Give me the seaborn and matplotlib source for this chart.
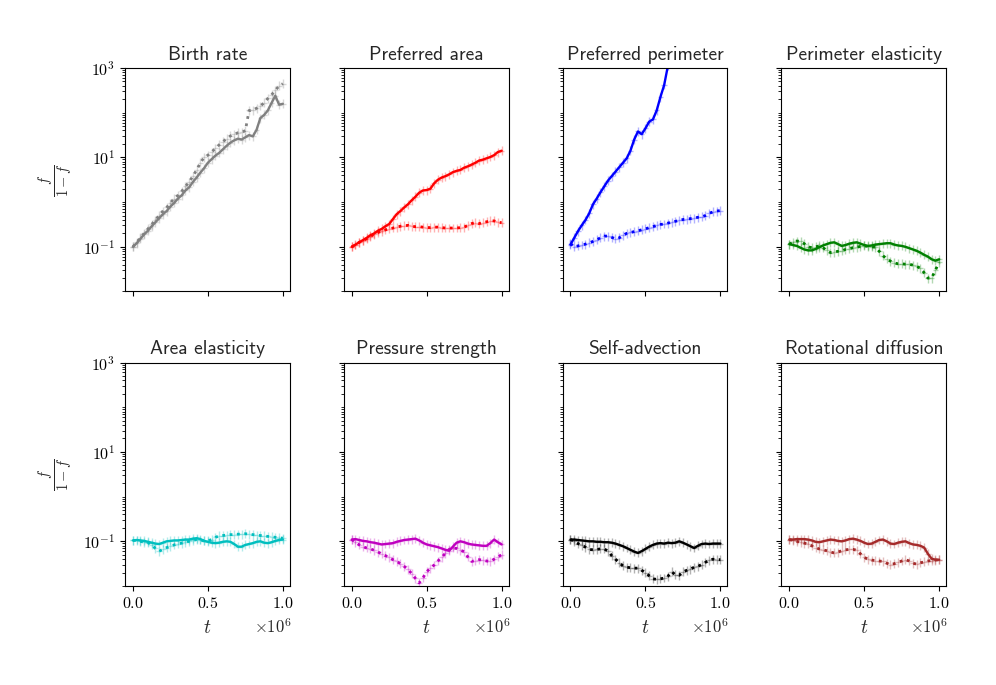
import numpy as np
import matplotlib
matplotlib.use("Agg")
import matplotlib.pyplot as plt
import matplotlib.ticker as mticker
import seaborn as sns

# sample times in units of 1e6
t_sample = [0.0, 0.025, 0.05, 0.075, 0.1, 0.125, 0.15, 0.175, 0.2, 0.225,
            0.25, 0.275, 0.3, 0.325, 0.35, 0.375, 0.4, 0.425, 0.45, 0.475,
            0.5, 0.525, 0.55, 0.575, 0.6, 0.625, 0.65, 0.675, 0.7, 0.725,
            0.75, 0.775, 0.8, 0.825, 0.85, 0.875, 0.9, 0.925, 0.95, 0.975, 1.0]

titles = ["Birth rate", "Preferred area", "Preferred perimeter", "Perimeter elasticity",
          "Area elasticity", "Pressure strength", "Self-advection", "Rotational diffusion"]
colors = ["gray", "red", "blue", "green", "c", "m", "k", "brown"]

# log10 of f/(1-f), solid and dotted series per panel
birth_solid = [-1.0, -0.92, -0.82, -0.72, -0.64, -0.54, -0.45, -0.36, -0.27, -0.20,
               -0.10, -0.02, 0.08, 0.15, 0.26, 0.33, 0.45, 0.55, 0.66, 0.76,
               0.88, 0.96, 1.04, 1.10, 1.18, 1.26, 1.33, 1.38, 1.42, 1.40,
               1.45, 1.50, 1.47, 1.62, 1.88, 1.95, 2.05, 2.22, 2.38, 2.18, 2.20]
birth_dot = [-1.0, -0.90, -0.80, -0.70, -0.60, -0.50, -0.40, -0.30, -0.20, -0.12,
             -0.02, 0.08, 0.15, 0.24, 0.35, 0.45, 0.58, 0.72, 0.88, 1.00,
             1.05, 1.12, 1.20, 1.28, 1.35, 1.42, 1.48, 1.52, 1.55, 1.56,
             1.60, 2.05, 2.06, 2.10, 2.15, 2.22, 2.32, 2.40, 2.50, 2.60, 2.65]

area_solid = [-1.0, -0.95, -0.90, -0.85, -0.80, -0.74, -0.70, -0.64, -0.60, -0.54,
              -0.49, -0.38, -0.27, -0.20, -0.12, -0.05, 0.04, 0.12, 0.21, 0.26,
              0.27, 0.30, 0.42, 0.50, 0.55, 0.58, 0.62, 0.67, 0.70, 0.72,
              0.77, 0.80, 0.84, 0.88, 0.93, 0.95, 0.98, 1.01, 1.05, 1.12, 1.15]
area_dot = [-1.0, -0.96, -0.90, -0.86, -0.82, -0.77, -0.72, -0.68, -0.65, -0.62,
            -0.60, -0.58, -0.56, -0.54, -0.53, -0.52, -0.54, -0.55, -0.55, -0.56,
            -0.57, -0.57, -0.56, -0.56, -0.57, -0.58, -0.58, -0.58, -0.58, -0.57,
            -0.56, -0.52, -0.48, -0.46, -0.48, -0.46, -0.44, -0.42, -0.42, -0.45, -0.46]

perim_solid = [-0.95, -0.80, -0.65, -0.52, -0.40, -0.25, -0.05, 0.08, 0.22, 0.35,
               0.48, 0.58, 0.68, 0.78, 0.88, 0.98, 1.15, 1.40, 1.58, 1.52,
               1.65, 1.80, 1.85, 2.05, 2.35, 2.62, 3.05, 3.40, 3.70, 3.95,
               4.20, 4.40, 4.60, 4.80, 5.00, 5.15, 5.30, 5.45, 5.60, 5.75, 5.90]
perim_dot = [-0.93, -1.00, -0.98, -0.96, -0.94, -0.91, -0.88, -0.84, -0.80, -0.76,
             -0.76, -0.79, -0.82, -0.80, -0.74, -0.70, -0.68, -0.66, -0.64, -0.62,
             -0.60, -0.57, -0.55, -0.52, -0.50, -0.49, -0.47, -0.45, -0.43, -0.41,
             -0.39, -0.38, -0.37, -0.36, -0.34, -0.33, -0.30, -0.25, -0.22, -0.20, -0.19]

pelast_solid = [-0.94, -0.96, -0.98, -1.02, -1.06, -1.08, -1.08, -1.05, -1.01, -0.97,
                -0.94, -0.91, -0.90, -0.94, -0.98, -0.96, -0.93, -0.91, -0.90, -0.93,
                -0.96, -0.98, -0.97, -0.95, -0.94, -0.93, -0.92, -0.92, -0.95, -0.97,
                -0.98, -1.00, -1.03, -1.06, -1.09, -1.13, -1.18, -1.22, -1.28, -1.31, -1.28]
pelast_dot = [-0.94, -0.90, -0.87, -0.88, -0.93, -1.00, -1.02, -1.00, -0.98, -1.02,
              -1.08, -1.13, -1.12, -1.10, -1.09, -1.06, -1.04, -1.02, -1.01, -0.99,
              -0.98, -0.99, -1.00, -1.01, -1.10, -1.20, -1.27, -1.32, -1.36, -1.38,
              -1.38, -1.39, -1.39, -1.41, -1.44, -1.48, -1.58, -1.70, -1.70, -1.52, -1.35]

aelast_solid = [-0.98, -0.97, -0.98, -0.99, -1.01, -1.03, -1.05, -1.06, -1.03, -1.00,
                -0.99, -0.98, -0.98, -0.97, -0.96, -0.96, -0.94, -0.93, -0.95, -0.99,
                -1.01, -1.03, -1.04, -1.03, -1.01, -1.00, -1.01, -1.06, -1.12, -1.12,
                -1.08, -1.06, -1.04, -1.01, -1.00, -1.03, -1.04, -1.02, -0.99, -0.97, -0.96]
aelast_dot = [-0.98, -0.98, -1.00, -1.02, -1.03, -1.08, -1.16, -1.22, -1.18, -1.14,
              -1.11, -1.08, -1.06, -1.04, -1.02, -1.00, -0.98, -0.96, -0.97, -0.99,
              -0.99, -0.96, -0.91, -0.88, -0.87, -0.86, -0.85, -0.85, -0.84, -0.84,
              -0.83, -0.84, -0.85, -0.86, -0.87, -0.88, -0.89, -0.90, -0.91, -0.92, -0.93]

press_solid = [-0.96, -0.95, -0.97, -0.99, -1.00, -1.02, -1.03, -1.05, -1.07, -1.06,
               -1.05, -1.04, -1.01, -0.99, -0.97, -0.96, -0.95, -0.94, -0.98, -1.03,
               -1.07, -1.09, -1.11, -1.13, -1.16, -1.19, -1.21, -1.12, -1.03, -1.00,
               -1.02, -1.05, -1.07, -1.08, -1.09, -1.10, -1.10, -1.04, -0.96, -1.02, -1.07]
press_dot = [-0.96, -1.02, -1.08, -1.12, -1.15, -1.17, -1.20, -1.24, -1.28, -1.32,
             -1.36, -1.41, -1.45, -1.50, -1.56, -1.63, -1.72, -1.83, -1.93, -1.82,
             -1.68, -1.60, -1.53, -1.44, -1.36, -1.27, -1.18, -1.15, -1.16, -1.20,
             -1.23, -1.35, -1.45, -1.43, -1.41, -1.42, -1.44, -1.45, -1.40, -1.35, -1.30]

advect_solid = [-0.96, -0.96, -0.97, -0.98, -0.99, -1.00, -1.00, -1.01, -1.01, -1.02,
                -1.02, -1.03, -1.05, -1.08, -1.11, -1.15, -1.19, -1.23, -1.26, -1.22,
                -1.17, -1.12, -1.08, -1.05, -1.04, -1.05, -1.03, -1.04, -1.03, -1.00,
                -1.03, -1.07, -1.11, -1.15, -1.10, -1.06, -1.05, -1.06, -1.05, -1.05, -1.05]
advect_dot = [-0.96, -1.00, -1.05, -1.09, -1.13, -1.18, -1.19, -1.18, -1.17, -1.17,
              -1.22, -1.32, -1.40, -1.48, -1.55, -1.58, -1.59, -1.60, -1.60, -1.65,
              -1.70, -1.77, -1.84, -1.85, -1.84, -1.82, -1.78, -1.68, -1.75, -1.76,
              -1.68, -1.65, -1.62, -1.58, -1.56, -1.52, -1.47, -1.42, -1.40, -1.41, -1.41]

rotd_solid = [-0.96, -0.96, -0.95, -0.95, -0.95, -0.96, -0.98, -1.01, -1.02, -1.00,
              -0.98, -0.96, -0.97, -0.99, -1.00, -0.98, -0.95, -0.94, -0.96, -0.99,
              -1.03, -1.06, -1.05, -1.01, -0.97, -0.96, -1.00, -1.05, -1.06, -1.03,
              -1.01, -1.00, -1.04, -1.07, -1.08, -1.10, -1.14, -1.28, -1.39, -1.41, -1.41]
rotd_dot = [-0.96, -0.98, -1.00, -1.02, -1.04, -1.06, -1.10, -1.14, -1.17, -1.19,
            -1.21, -1.24, -1.26, -1.24, -1.21, -1.19, -1.18, -1.18, -1.20, -1.28,
            -1.36, -1.40, -1.42, -1.43, -1.44, -1.45, -1.49, -1.52, -1.50, -1.47,
            -1.44, -1.41, -1.44, -1.49, -1.51, -1.48, -1.46, -1.44, -1.43, -1.42, -1.41]

solid_series = [birth_solid, area_solid, perim_solid, pelast_solid,
                aelast_solid, press_solid, advect_solid, rotd_solid]
dotted_series = [birth_dot, area_dot, perim_dot, pelast_dot,
                 aelast_dot, press_dot, advect_dot, rotd_dot]

# error bar half widths: decades in y, fraction of 1e6 in t
y_err_dec = 0.1
t_err = 0.018

sns.set_style("ticks")
plt.rcParams["mathtext.fontset"] = "cm"
plt.rcParams["font.family"] = ["DejaVu Sans"]
plt.rcParams["xtick.major.size"] = 3.5
plt.rcParams["ytick.major.size"] = 3.5
plt.rcParams["ytick.minor.size"] = 2
plt.rcParams["axes.edgecolor"] = "black"
plt.rcParams["xtick.color"] = "black"
plt.rcParams["ytick.color"] = "black"

fig, axes = plt.subplots(2, 4, figsize=(9.96, 6.85), dpi=100, sharex=True, sharey=True)
fig.subplots_adjust(left=0.1255, right=0.95, top=0.9007, bottom=0.1445,
                    wspace=0.327, hspace=0.318)

t = np.array(t_sample) * 1e6

for i, ax in enumerate(axes.flat):
    ax.set_yscale("log")
    c = colors[i]
    for vals, ls, lw in [(solid_series[i], "-", 1.7), (dotted_series[i], ":", 2.0)]:
        y = 10 ** np.array(vals)
        yerr = [y * (1 - 10 ** -y_err_dec), y * (10 ** y_err_dec - 1)]
        ax.errorbar(t, y, yerr=yerr, xerr=t_err * 1e6, fmt="none",
                    ecolor=c, alpha=0.3, elinewidth=1)
        sns.lineplot(x=t, y=y, ax=ax, color=c, linestyle=ls, linewidth=lw)
    ax.set_title(titles[i], fontsize=14, family="cmss10")
    ax.set_ylim(1e-2, 1e3)
    ax.set_xlim(-0.053e6, 1.047e6)
    ax.set_xticks([0, 0.5e6, 1e6])
    ax.xaxis.set_major_formatter(mticker.FuncFormatter(lambda v, p: r"$%.1f$" % (v / 1e6)))
    ax.yaxis.set_major_locator(mticker.FixedLocator([1e-1, 1e1, 1e3]))
    ax.yaxis.set_minor_locator(mticker.LogLocator(base=10, subs=np.arange(1, 10), numticks=20))
    ax.yaxis.set_minor_formatter(mticker.NullFormatter())
    ax.yaxis.set_major_formatter(mticker.FuncFormatter(lambda v, p: r"$10^{%d}$" % round(np.log10(v))))
    ax.tick_params(axis="both", labelsize=11.5)
    for s in ax.spines.values():
        s.set_visible(True)
        s.set_linewidth(0.8)

for ax in axes[:, 0]:
    ax.set_ylabel(r"$\frac{f}{1-f}$", fontsize=15, labelpad=6)
for ax in axes[1, :]:
    ax.set_xlabel(r"$t$", fontsize=14, labelpad=5)
    ax.text(1.01, -0.143, r"$\times10^{6}$", transform=ax.transAxes,
            ha="right", va="top", fontsize=12)

fig.savefig("out.png", dpi=100)
